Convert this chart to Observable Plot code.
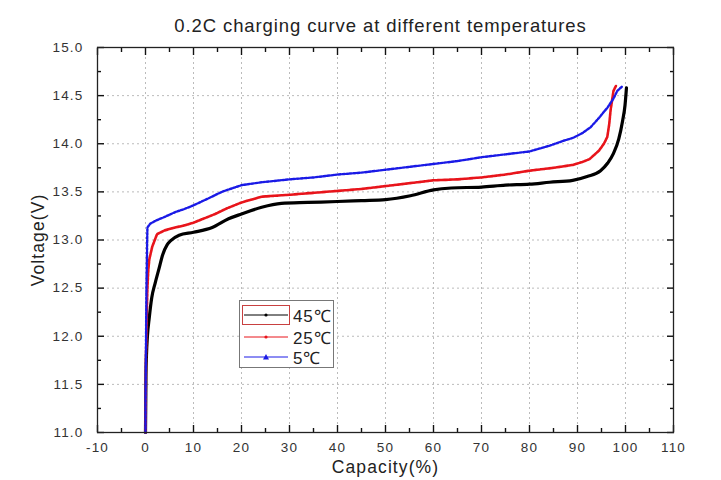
<!DOCTYPE html>
<html>
<head>
<meta charset="utf-8">
<script src="https://cdn.jsdelivr.net/npm/d3@7"></script>
<script src="https://cdn.jsdelivr.net/npm/@observablehq/plot@0.6"></script>
<style>
  body { margin: 0; background: #fff; font-family: "Liberation Sans", Arial, sans-serif; }
  #wrap { position: relative; width: 721px; height: 480px; }
  #title { height: 40px; width: 721px; box-sizing: border-box; padding-left: 40px; text-align: center; font-size: 18.5px; letter-spacing: 0.9px; line-height: 52px; color: #222; }
  #legend { position: absolute; left: 239px; top: 300px; width: 95px; height: 68px; border: 1px solid #777; background: #fff; box-sizing: border-box; }
  .row { position: absolute; left: 2px; height: 20px; display: flex; align-items: center; font-size: 17px; letter-spacing: 0.8px; color: #222; }
  .row svg { margin-right: 3px; }
</style>
</head>
<body>
<div id="wrap">
  <div id="title">0.2C charging curve at different temperatures</div>
  <div id="chart"></div>
  <div id="legend"></div>
</div>
<script>
// Series: capacity (%) and voltage (V)
const series = ["45℃", "25℃", "5℃"];
const seriesColors = ["#000000", "#e8141b", "#1a1ae6"];

const cap45 = [0, 0.05, 0.1, 0.2, 0.4, 0.8, 1.3, 2, 2.8, 3.6, 4.5, 5.2, 7, 10, 13.9, 17.3, 20, 24.2, 28.3, 33.8, 40, 45, 50, 55.2, 60, 63.7, 70, 75, 80, 84.2, 89, 92, 94.8, 96.3, 97.5, 98.6, 99.4, 99.9, 100.2];
const volt45 = [11.0, 11.3, 11.6, 11.8, 12.0, 12.2, 12.4, 12.55, 12.7, 12.85, 12.95, 12.99, 13.05, 13.08, 13.13, 13.22, 13.27, 13.34, 13.38, 13.39, 13.4, 13.41, 13.42, 13.46, 13.52, 13.54, 13.55, 13.57, 13.58, 13.6, 13.62, 13.66, 13.72, 13.8, 13.9, 14.05, 14.24, 14.4, 14.58];

const cap25 = [0, 0.05, 0.1, 0.2, 0.3, 0.4, 0.6, 0.8, 1.4, 2.4, 4, 6.2, 8, 10, 12, 14.5, 17, 20, 24.2, 30, 35, 40, 45, 50, 55, 60, 65, 70, 75, 80, 85, 89, 91, 92.5, 94.5, 95.5, 96.2, 96.6, 96.9, 97.2, 97.5, 98];
const volt25 = [11.0, 11.4, 11.8, 12.0, 12.3, 12.5, 12.7, 12.8, 12.93, 13.06, 13.1, 13.13, 13.15, 13.18, 13.22, 13.27, 13.33, 13.39, 13.45, 13.47, 13.49, 13.51, 13.53, 13.56, 13.59, 13.62, 13.63, 13.65, 13.68, 13.72, 13.75, 13.78, 13.81, 13.84, 13.93, 14.0, 14.07, 14.2, 14.35, 14.45, 14.55, 14.6];

const cap5 = [0, 0, 0.05, 0.1, 0.15, 0.2, 0.3, 0.35, 0.4, 1, 2.1, 4, 6.2, 8, 10, 13, 15.9, 20, 24.2, 30, 35, 40, 45, 50, 55, 60, 65, 70, 75, 80, 84.2, 87, 89, 91, 92.7, 94.5, 96.3, 97.5, 98.3, 99.4];
const volt5 = [11.0, 11.3, 11.6, 11.9, 12.2, 12.5, 12.8, 13.0, 13.13, 13.17, 13.2, 13.24, 13.29, 13.32, 13.36, 13.43, 13.5, 13.57, 13.6, 13.63, 13.65, 13.68, 13.7, 13.73, 13.76, 13.79, 13.82, 13.86, 13.89, 13.92, 13.98, 14.03, 14.06, 14.11, 14.17, 14.27, 14.38, 14.47, 14.55, 14.6];

const xTicks = [-10, 0, 10, 20, 30, 40, 50, 60, 70, 80, 90, 100, 110];
const xMinor = [-5, 5, 15, 25, 35, 45, 55, 65, 75, 85, 95, 105];
const yTicks = [11.0, 11.5, 12.0, 12.5, 13.0, 13.5, 14.0, 14.5, 15.0];
const yMinor = [11.25, 11.75, 12.25, 12.75, 13.25, 13.75, 14.25, 14.75];

const toRows = (cap, volt, name) => cap.map((c, i) => ({cap: c, volt: volt[i], series: name}));
const d45 = toRows(cap45, volt45, series[0]);
const d25 = toRows(cap25, volt25, series[1]);
const d5 = toRows(cap5, volt5, series[2]);

const W = 721, H = 440;
const mL = 97, mR = 48, mT = 7, mB = 48;
const maj = 7, mnr = 4;
const blank = () => "";
const tickStyle = {label: null, tickFormat: blank, stroke: "#111", strokeWidth: 1.4};

const chart = Plot.plot({
  width: W, height: H,
  marginLeft: mL, marginRight: mR, marginTop: mT, marginBottom: mB,
  style: {fontFamily: "'Liberation Sans', Arial, sans-serif", fontSize: "13px", color: "#333", background: "#fff"},
  x: {domain: [-10, 110]},
  y: {domain: [11, 15]},
  marks: [
    Plot.gridX(xTicks.slice(1, -1), {stroke: "#bbb", strokeOpacity: 1, strokeDasharray: "2,3", strokeWidth: 1}),
    Plot.gridY(yTicks.slice(1, -1), {stroke: "#bbb", strokeOpacity: 1, strokeDasharray: "2,3", strokeWidth: 1}),
    // inward ticks on all four sides (axes shifted inward by the tick length)
    Plot.axisX(xTicks, {anchor: "bottom", tickSize: maj, dy: -maj, ...tickStyle}),
    Plot.axisX(xMinor, {anchor: "bottom", tickSize: mnr, dy: -mnr, ...tickStyle}),
    Plot.axisX(xTicks, {anchor: "top", tickSize: maj, dy: maj, ...tickStyle}),
    Plot.axisX(xMinor, {anchor: "top", tickSize: mnr, dy: mnr, ...tickStyle}),
    Plot.axisY(yTicks, {anchor: "left", tickSize: maj, dx: maj, ...tickStyle}),
    Plot.axisY(yMinor, {anchor: "left", tickSize: mnr, dx: mnr, ...tickStyle}),
    Plot.axisY(yTicks, {anchor: "right", tickSize: maj, dx: -maj, ...tickStyle}),
    Plot.axisY(yMinor, {anchor: "right", tickSize: mnr, dx: -mnr, ...tickStyle}),
    // labelled axes
    Plot.axisX(xTicks, {anchor: "bottom", tickSize: 0, tickPadding: 10, tickFormat: d => d, label: "Capacity(%)", labelAnchor: "center", labelOffset: 40, labelArrow: "none", fontSize: 13.5, fill: "#333"}),
    Plot.axisY(yTicks, {anchor: "left", tickSize: 0, tickPadding: 14, tickFormat: d => d.toFixed(1), label: "Voltage(V)", labelAnchor: "center", labelOffset: 66, labelArrow: "none", fontSize: 13.5, fill: "#333"}),
    Plot.line(d45, {x: "cap", y: "volt", stroke: seriesColors[0], strokeWidth: 3.2, curve: "monotone-x"}),
    Plot.line(d25, {x: "cap", y: "volt", stroke: seriesColors[1], strokeWidth: 2.6, strokeDasharray: "3,1", curve: "linear"}),
    Plot.line(d5, {x: "cap", y: "volt", stroke: seriesColors[2], strokeWidth: 2.4, strokeDasharray: "2.2,1.6", curve: "linear"}),
    Plot.frame({stroke: "#222", strokeWidth: 1.3})
  ]
});
document.getElementById("chart").appendChild(chart);
// tick label and axis label typography (slightly wide, as in the reference)
chart.querySelectorAll("g[aria-label='x-axis tick label'] text, g[aria-label='y-axis tick label'] text").forEach(t => { t.style.letterSpacing = "1.2px"; });
chart.querySelectorAll("g[aria-label='x-axis label'] text, g[aria-label='y-axis label'] text").forEach(t => { t.style.fontSize = "17.5px"; t.style.fill = "#222"; t.style.letterSpacing = "1.1px"; });

// legend
const legend = document.getElementById("legend");
const tops = [4, 26, 46];
series.forEach((name, i) => {
  const row = document.createElement("div");
  row.className = "row";
  row.style.top = tops[i] + "px";
  const col = seriesColors[i];
  const box = i === 0 ? `<rect x="0.5" y="0.5" width="47" height="19" fill="none" stroke="#c84040" stroke-width="1"/>` : "";
  const mk = i === 2 ? `<path d="M24,7 L27,12.5 L21,12.5 Z" fill="${col}"/>` : `<circle cx="24" cy="10" r="1.6" fill="${col}"/>`;
  row.innerHTML = `<svg width="48" height="20">${box}<line x1="2" y1="10" x2="46" y2="10" stroke="${col}" stroke-width="1"/>${mk}</svg><span>${name}</span>`;
  legend.appendChild(row);
});
</script>
</body>
</html>
